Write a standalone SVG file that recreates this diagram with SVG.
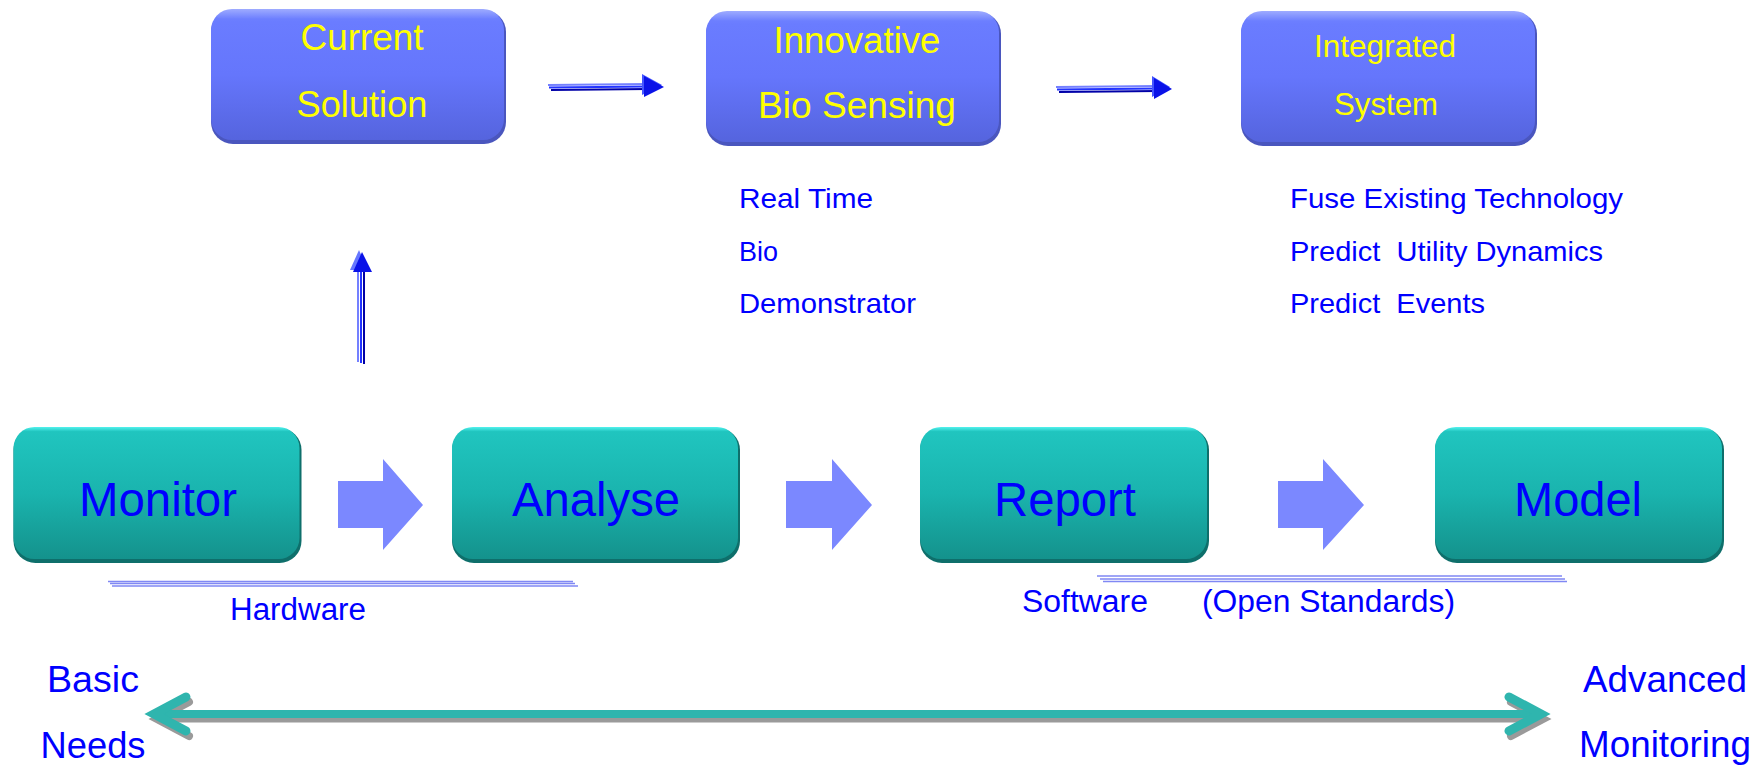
<svg xmlns="http://www.w3.org/2000/svg" width="1764" height="766" viewBox="0 0 1764 766">
<style>
text{font-family:"Liberation Sans",Arial,sans-serif}
.yt{fill:#FFFF00;text-anchor:middle}
.bt{fill:#0000FF;text-anchor:middle;font-size:48px}
.lt{fill:#0000FF;font-size:28px}
.st{fill:#0000FF;font-size:31px}
.et{fill:#0000FF;text-anchor:middle;font-size:37px}
.bedge{fill:#4A56BE}
.bbody{fill:url(#gBlue)}
.bhi{fill:url(#gHi)}
.tedge{fill:#0E6F6B}
.tbody{fill:url(#gTeal)}
.blk{fill:#7B88FF}
.ul1{stroke:#8088F4;stroke-width:1.6;fill:none}
</style>
<defs>
<linearGradient id="gBlue" x1="0" y1="0" x2="0" y2="1">
<stop offset="0" stop-color="#7487FF"/>
<stop offset="0.1" stop-color="#6A7CFF"/>
<stop offset="0.5" stop-color="#6576FC"/>
<stop offset="1" stop-color="#5564DE"/>
</linearGradient>
<linearGradient id="gTeal" x1="0" y1="0" x2="0" y2="1">
<stop offset="0" stop-color="#52F2EE"/>
<stop offset="0.035" stop-color="#20C5BF"/>
<stop offset="0.5" stop-color="#1AB4AE"/>
<stop offset="1" stop-color="#14928C"/>
</linearGradient>
<linearGradient id="gHi" x1="0" y1="0" x2="0" y2="1">
<stop offset="0" stop-color="#FFFFFF" stop-opacity="0.3"/>
<stop offset="1" stop-color="#FFFFFF" stop-opacity="0"/>
</linearGradient>
</defs>

<g id="current-solution">
<rect class="bedge" x="211" y="10" width="295" height="134" rx="22"/>
<rect class="bbody" x="211" y="9" width="293" height="131" rx="21"/>
<rect class="bhi" x="216" y="9" width="283" height="10" rx="5"/>
<text class="yt" x="362" y="50" font-size="37" textLength="123" lengthAdjust="spacingAndGlyphs">Current</text>
<text class="yt" x="362" y="117" font-size="37" textLength="131" lengthAdjust="spacingAndGlyphs">Solution</text>
</g>

<g id="innovative-bio-sensing">
<rect class="bedge" x="706" y="12" width="295" height="134" rx="22"/>
<rect class="bbody" x="706" y="11" width="293" height="131" rx="21"/>
<rect class="bhi" x="711" y="11" width="283" height="10" rx="5"/>
<text class="yt" x="857" y="53" font-size="37" textLength="167" lengthAdjust="spacingAndGlyphs">Innovative</text>
<text class="yt" x="857" y="118" font-size="37" textLength="198" lengthAdjust="spacingAndGlyphs">Bio Sensing</text>
</g>

<g id="integrated-system">
<rect class="bedge" x="1241" y="12" width="296" height="134" rx="22"/>
<rect class="bbody" x="1241" y="11" width="294" height="131" rx="21"/>
<rect class="bhi" x="1246" y="11" width="284" height="10" rx="5"/>
<text class="yt" x="1385" y="57" font-size="32" textLength="142" lengthAdjust="spacingAndGlyphs">Integrated</text>
<text class="yt" x="1386" y="115" font-size="32" textLength="104" lengthAdjust="spacingAndGlyphs">System</text>
</g>

<g id="real-time-notes">
<text class="lt" x="739" y="208" textLength="134" lengthAdjust="spacingAndGlyphs">Real Time</text>
<text class="lt" x="739" y="261" textLength="39" lengthAdjust="spacingAndGlyphs">Bio</text>
<text class="lt" x="739" y="313" textLength="177" lengthAdjust="spacingAndGlyphs">Demonstrator</text>
</g>

<g id="integrated-notes">
<text class="lt" x="1290" y="208" textLength="333" lengthAdjust="spacingAndGlyphs">Fuse Existing Technology</text>
<text class="lt" x="1290" y="261" xml:space="preserve" textLength="313" lengthAdjust="spacingAndGlyphs">Predict  Utility Dynamics</text>
<text class="lt" x="1290" y="313" xml:space="preserve" textLength="195" lengthAdjust="spacingAndGlyphs">Predict  Events</text>
</g>

<g id="monitor">
<rect class="tedge" x="13.5" y="428" width="288" height="135" rx="22"/>
<rect class="tbody" x="13.5" y="427" width="286" height="132" rx="21"/>
<text class="bt" x="158" y="516" textLength="158" lengthAdjust="spacingAndGlyphs">Monitor</text>
</g>

<g id="analyse">
<rect class="tedge" x="452" y="428" width="288" height="135" rx="22"/>
<rect class="tbody" x="452" y="427" width="286" height="132" rx="21"/>
<text class="bt" x="596" y="516" textLength="168" lengthAdjust="spacingAndGlyphs">Analyse</text>
</g>

<g id="report">
<rect class="tedge" x="920" y="428" width="289" height="135" rx="22"/>
<rect class="tbody" x="920" y="427" width="287" height="132" rx="21"/>
<text class="bt" x="1065" y="516" textLength="142" lengthAdjust="spacingAndGlyphs">Report</text>
</g>

<g id="model">
<rect class="tedge" x="1435" y="428" width="289" height="135" rx="22"/>
<rect class="tbody" x="1435" y="427" width="287" height="132" rx="21"/>
<text class="bt" x="1578" y="516" textLength="128" lengthAdjust="spacingAndGlyphs">Model</text>
</g>

<g id="hardware-label">
<path class="ul1" d="M108 581.5 H573 M110 583.5 H575 M112 586 H578"/>
<text class="st" x="298" y="620" text-anchor="middle" textLength="136" lengthAdjust="spacingAndGlyphs">Hardware</text>
</g>

<g id="software-label">
<path class="ul1" d="M1097 576 H1562 M1100 579 H1565 M1103 581.5 H1567"/>
<text class="st" x="1022" y="612" textLength="126" lengthAdjust="spacingAndGlyphs">Software</text>
<text class="st" x="1202" y="612" textLength="253" lengthAdjust="spacingAndGlyphs">(Open Standards)</text>
</g>

<g id="scale-labels">
<text class="et" x="93" y="692" textLength="92" lengthAdjust="spacingAndGlyphs">Basic</text>
<text class="et" x="93" y="758" textLength="105" lengthAdjust="spacingAndGlyphs">Needs</text>
<text class="et" x="1665" y="692" textLength="164" lengthAdjust="spacingAndGlyphs">Advanced</text>
<text class="et" x="1665" y="757" textLength="172" lengthAdjust="spacingAndGlyphs">Monitoring</text>
</g>

<g id="connectors">
<polygon class="blk" points="338,481 383,481 383,459 423,505 383,550 383,528 338,528"/>
<polygon class="blk" points="786,481 832,481 832,459 872,505 832,550 832,528 786,528"/>
<polygon class="blk" points="1278,481 1323,481 1323,459 1364,505 1323,550 1323,528 1278,528"/>

<g>
<line x1="548" y1="85" x2="648" y2="84" stroke="#7480FF" stroke-width="2"/>
<line x1="549" y1="87.5" x2="648" y2="86.5" stroke="#2233FF" stroke-width="2"/>
<line x1="551" y1="90" x2="648" y2="89" stroke="#0000A8" stroke-width="2"/>
<polygon points="642,74 662,85 642,95" fill="#4455FF"/>
<polygon points="644,76 664,87 644,97" fill="#0A12E8"/>
</g>
<g>
<line x1="1056" y1="87" x2="1158" y2="86" stroke="#7480FF" stroke-width="2"/>
<line x1="1057" y1="89.5" x2="1158" y2="88.5" stroke="#2233FF" stroke-width="2"/>
<line x1="1059" y1="92" x2="1158" y2="91" stroke="#0000A8" stroke-width="2"/>
<polygon points="1152,76 1170,87 1152,97" fill="#4455FF"/>
<polygon points="1154,78 1172,89 1154,99" fill="#0A12E8"/>
</g>
<g>
<line x1="358" y1="362" x2="358" y2="270" stroke="#7480FF" stroke-width="2"/>
<line x1="361" y1="363" x2="361" y2="271" stroke="#2233FF" stroke-width="2"/>
<line x1="364" y1="364" x2="364" y2="272" stroke="#0000A8" stroke-width="2"/>
<polygon points="350,270 359,250 368,270" fill="#6677FF"/>
<polygon points="353,272 362,252 372,272" fill="#0A12E8"/>
</g>

<g>
<line x1="160" y1="720" x2="1536" y2="720" stroke="#9A9A9A" stroke-width="5"/>
<polyline points="189,702 157,719 189,736" fill="none" stroke="#9A9A9A" stroke-width="8" stroke-linecap="round"/>
<polyline points="1511,702 1543,719 1511,736" fill="none" stroke="#9A9A9A" stroke-width="8" stroke-linecap="round"/>
<line x1="158" y1="714" x2="1538" y2="714" stroke="#2FB5AE" stroke-width="8"/>
<polyline points="186,697 154,714 186,731" fill="none" stroke="#2FB5AE" stroke-width="9" stroke-linecap="round" stroke-miterlimit="10"/>
<polyline points="1509,697 1541,714 1509,731" fill="none" stroke="#2FB5AE" stroke-width="9" stroke-linecap="round" stroke-miterlimit="10"/>
</g>
</g>
</svg>
